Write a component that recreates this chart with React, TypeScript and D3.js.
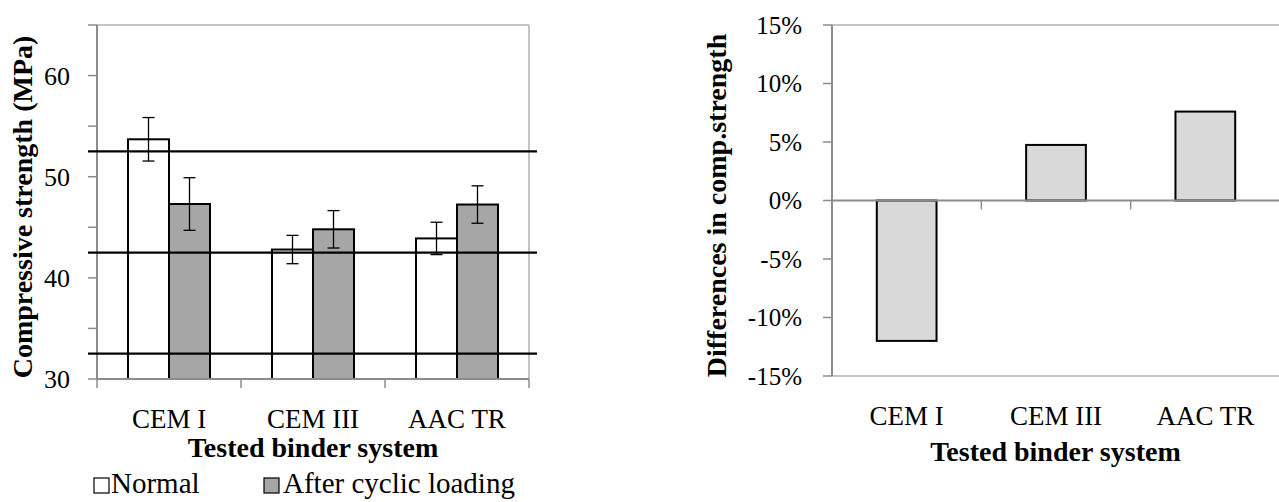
import React from "react";
import * as d3 from "d3";

const categories = ["CEM I", "CEM III", "AAC TR"];
const normalMean = [53.7, 42.8, 43.9];
const normalErr = [2.15, 1.4, 1.6];
const cyclicMean = [47.3, 44.8, 47.25];
const cyclicErr = [2.6, 1.85, 1.85];
const refLines = [52.5, 42.5, 32.5];
const leftTicks = [30, 35, 40, 45, 50, 55, 60, 65];
const leftLabels = [30, 40, 50, 60];
const diffValues = [-0.12, 0.0475, 0.076];
const rightTicks = [-0.15, -0.1, -0.05, 0, 0.05, 0.1, 0.15];
const seriesNames = ["Normal", "After cyclic loading"];

const FONT = "'Liberation Serif', 'Times New Roman', serif";
const AXIS = "#8c8c8c";
const BORDER = "#b0b0b0";

export default function App() {
  // Left chart
  const lx0 = 97, lx1 = 529, ly0 = 25, ly1 = 379;
  const ly = d3.scaleLinear().domain([30, 65]).range([ly1, ly0]);
  const lxBand = d3.scaleBand<string>().domain(categories).range([lx0, lx1]).padding(0);
  const groupW = 82;
  const inner = d3.scaleBand<string>().domain(["n", "c"]).range([0, groupW]).padding(0);

  // Right chart
  const rx0 = 832, rx1 = 1280, ry0 = 25, ry1 = 376;
  const ry = d3.scaleLinear().domain([-0.15, 0.15]).range([ry1, ry0]);
  const rxBand = d3.scaleBand<string>().domain(categories).range([rx0, rx1]).paddingInner(0.6).paddingOuter(0.3);
  const rxCat = d3.scaleBand<string>().domain(categories).range([rx0, rx1]).padding(0);
  const pctFmt = d3.format(".0%");
  const pct = (v: number) => pctFmt(v).replace("\u2212", "-");

  const errBar = (cx: number, m: number, e: number, key: string) => {
    const top = ly(m + e), bot = ly(m - e);
    return (
      <g key={key} stroke="#000" strokeWidth={1.3}>
        <line x1={cx} x2={cx} y1={top} y2={bot} />
        <line x1={cx - 6} x2={cx + 6} y1={top} y2={top} />
        <line x1={cx - 6} x2={cx + 6} y1={bot} y2={bot} />
      </g>
    );
  };

  return (
    <svg width={1279} height={502} style={{ position: "absolute", left: 0, top: 0, fontFamily: FONT }}>
      <rect width={1279} height={502} fill="#fff" />
      {/* LEFT CHART */}
      <g>
        <line x1={lx0} x2={lx1} y1={ly0} y2={ly0} stroke={BORDER} strokeWidth={1.5} />
        <line x1={lx1} x2={lx1} y1={ly0} y2={ly1} stroke={BORDER} strokeWidth={1.5} />
        {categories.map((c, i) => {
          const gx = (lxBand(c) as number) + lxBand.bandwidth() / 2 - groupW / 2;
          return (
            <g key={c}>
              <rect x={gx + (inner("n") as number)} y={ly(normalMean[i])} width={inner.bandwidth()} height={ly1 - ly(normalMean[i])} fill="#fff" stroke="#000" strokeWidth={2} />
              <rect x={gx + (inner("c") as number)} y={ly(cyclicMean[i])} width={inner.bandwidth()} height={ly1 - ly(cyclicMean[i])} fill="#a6a6a6" stroke="#000" strokeWidth={2} />
            </g>
          );
        })}
        <line x1={lx0} x2={lx0} y1={ly0} y2={ly1} stroke={AXIS} strokeWidth={2} />
        <line x1={lx0} x2={lx1} y1={ly1} y2={ly1} stroke={AXIS} strokeWidth={2} />
        {leftTicks.map((t) => (
          <line key={t} x1={lx0 - 9} x2={lx0} y1={ly(t)} y2={ly(t)} stroke={AXIS} strokeWidth={1.5} />
        ))}
        {leftLabels.map((t) => (
          <text key={t} x={70} y={ly(t)} dy="0.35em" textAnchor="end" fontSize={26} fill="#000">{t}</text>
        ))}
        {[...categories.map((c) => lxBand(c) as number), lx1].map((x, i) => (
          <line key={i} x1={x} x2={x} y1={ly1} y2={ly1 + 9} stroke={AXIS} strokeWidth={1.5} />
        ))}
        {categories.map((c) => (
          <text key={c} x={(lxBand(c) as number) + lxBand.bandwidth() / 2} y={428} textAnchor="middle" fontSize={27}>{c}</text>
        ))}
        {categories.map((c, i) => {
          const gx = (lxBand(c) as number) + lxBand.bandwidth() / 2 - groupW / 2;
          return (
            <g key={c}>
              {errBar(gx + (inner("n") as number) + inner.bandwidth() / 2, normalMean[i], normalErr[i], "n")}
              {errBar(gx + (inner("c") as number) + inner.bandwidth() / 2, cyclicMean[i], cyclicErr[i], "c")}
            </g>
          );
        })}
        {refLines.map((v) => (
          <line key={v} x1={88} x2={537} y1={ly(v)} y2={ly(v)} stroke="#000" strokeWidth={2.2} />
        ))}
        <text x={(lx0 + lx1) / 2} y={457} textAnchor="middle" fontSize={28} fontWeight="bold">Tested binder system</text>
        <text transform={`translate(32, ${(ly0 + ly1) / 2 + 5}) rotate(-90)`} textAnchor="middle" fontSize={28} fontWeight="bold">Compressive strength (MPa)</text>
        <rect x={94} y={478} width={15} height={15} fill="#fff" stroke="#000" strokeWidth={1.2} />
        <text x={111} y={493} fontSize={29}>{seriesNames[0]}</text>
        <rect x={264} y={478} width={15} height={15} fill="#a6a6a6" stroke="#000" strokeWidth={1.2} />
        <text x={283} y={493} fontSize={29}>{seriesNames[1]}</text>
      </g>

      {/* RIGHT CHART */}
      <g>
        <line x1={rx0} x2={rx1} y1={ry0} y2={ry0} stroke={BORDER} strokeWidth={1.5} />
        <line x1={rx0} x2={rx1} y1={ry1} y2={ry1} stroke={BORDER} strokeWidth={1.5} />
        {categories.map((c, i) => {
          const v = diffValues[i];
          const y = Math.min(ry(v), ry(0));
          const h = Math.abs(ry(v) - ry(0));
          return <rect key={c} x={rxBand(c)} y={y} width={rxBand.bandwidth()} height={h} fill="#d9d9d9" stroke="#000" strokeWidth={2} />;
        })}
        <line x1={rx0} x2={rx0} y1={ry0} y2={ry1} stroke={AXIS} strokeWidth={2} />
        <line x1={rx0} x2={rx1} y1={ry(0)} y2={ry(0)} stroke={AXIS} strokeWidth={2} />
        {rightTicks.map((t) => (
          <g key={t}>
            <line x1={rx0 - 9} x2={rx0} y1={ry(t)} y2={ry(t)} stroke={AXIS} strokeWidth={1.5} />
            <text x={802} y={ry(t)} dy="0.35em" textAnchor="end" fontSize={25}>{pct(t)}</text>
          </g>
        ))}
        {[...categories.map((c) => rxCat(c) as number), rx1].map((x, i) => (
          <line key={i} x1={x} x2={x} y1={ry(0)} y2={ry(0) + 9} stroke={AXIS} strokeWidth={1.5} />
        ))}
        {categories.map((c) => (
          <text key={c} x={(rxCat(c) as number) + rxCat.bandwidth() / 2} y={425} textAnchor="middle" fontSize={27}>{c}</text>
        ))}
        <text x={(rx0 + 1279) / 2} y={461} textAnchor="middle" fontSize={28} fontWeight="bold">Tested binder system</text>
        <text transform={`translate(726, ${(ry0 + ry1) / 2 + 5}) rotate(-90)`} textAnchor="middle" fontSize={28} fontWeight="bold">Differences in comp.strength</text>
      </g>
    </svg>
  );
}
